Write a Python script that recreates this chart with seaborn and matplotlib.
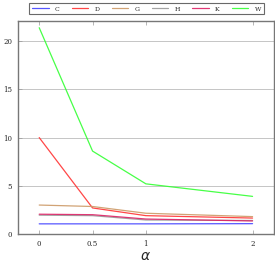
import pandas as pd
import matplotlib.pyplot as plt
import seaborn as sns

# valeurs
alpha = [0, 0.5, 1, 2]
series = ['C', 'D', 'G', 'H', 'K', 'W']
C = [1.05, 1.05, 1.05, 1.07]
D = [10.0, 2.7, 1.9, 1.65]
G = [3.0, 2.85, 2.15, 1.8]
H = [1.95, 1.9, 1.45, 1.4]
K = [2.05, 2.0, 1.55, 1.35]
W = [21.4, 8.6, 5.2, 3.9]
colors = ['#4444ff', '#ff3333', '#cc9966', '#999999', '#dd2266', '#33ff33']
widths = [2.5, 0.9, 0.9, 0.9, 0.9, 0.9]

rows = []
for name, vals in zip(series, [C, D, G, H, K, W]):
    for a, v in zip(alpha, vals):
        rows.append({'alpha': a, 'value': v, 'serie': name})
df = pd.DataFrame(rows)

sns.set_style('white')
plt.rcParams['font.family'] = ['DejaVu Serif']
fig = plt.figure(figsize=(2.75, 2.62), dpi=100)
ax = fig.add_axes([0.065, 0.107, 0.931, 0.813])

for name, col, lw in zip(series, colors, widths):
    sns.lineplot(data=df[df['serie'] == name], x='alpha', y='value', color=col,
                 lw=lw, alpha=0.75 if name != 'C' else 0.5, ax=ax, label=name)

ax.set_xlim(-0.2, 2.2)
ax.set_ylim(0, 22.1)
ax.set_xticks(alpha)
ax.set_xticklabels(['0', '0.5', '1', '2'])
ax.set_yticks([0, 5, 10, 15, 20])
ax.yaxis.grid(True, color='#bbbbbb', lw=0.6)
ax.tick_params(labelsize=5, direction='in', length=3, width=0.5, color='#999999',
               top=True, left=True, bottom=True, pad=4)
for s in ax.spines.values():
    s.set_color('#777777')
    s.set_linewidth(1.0)
ax.set_xlabel(r'$\alpha$', fontsize=10, labelpad=1)
ax.set_ylabel('')

ax.get_legend().remove()
h, l = ax.get_legend_handles_labels()
for hh in h:
    hh.set_linewidth(0.9)
    hh.set_alpha(0.9)
leg = fig.legend(h, l, loc='center', bbox_to_anchor=(0.533, 0.966), ncol=6,
                 fontsize=4.5, frameon=True, fancybox=False, handlelength=2.6,
                 columnspacing=2.0, handletextpad=1.0, borderpad=0.45)
leg.get_frame().set_edgecolor('#444444')
leg.get_frame().set_linewidth(0.8)

fig.savefig('out.png', dpi=100)
